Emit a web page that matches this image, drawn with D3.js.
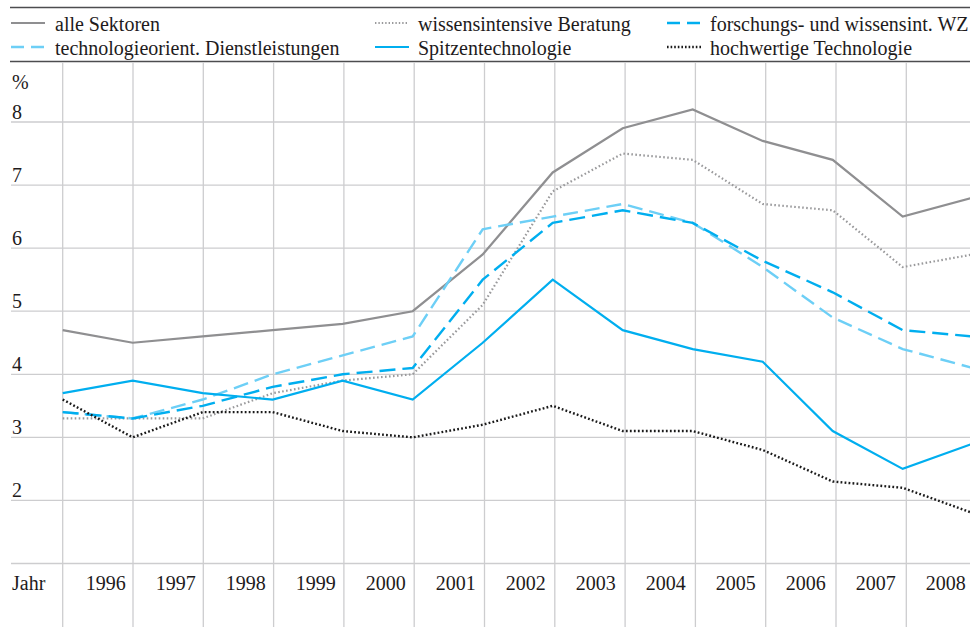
<!DOCTYPE html>
<html>
<head>
<meta charset="utf-8">
<script src="https://cdn.jsdelivr.net/npm/d3@7/dist/d3.min.js"></script>
<style>
  html, body { margin: 0; padding: 0; background: #fff; }
  svg { display: block; }
  svg text { font-family: "Liberation Serif", "DejaVu Serif", "Noto Serif", serif; fill: #1e1b1c; font-size: 20px; }
</style>
</head>
<body>
<svg id="chart" width="970" height="627"></svg>
<script>
// Jahre der Datenpunkte (erster Punkt = Ausgangsjahr ohne Beschriftung)
const years = [1995, 1996, 1997, 1998, 1999, 2000, 2001, 2002, 2003, 2004, 2005, 2006, 2007, 2008];
const yearLabels = [1996, 1997, 1998, 1999, 2000, 2001, 2002, 2003, 2004, 2005, 2006, 2007, 2008];
const yTicks = [2, 3, 4, 5, 6, 7, 8];
const yGrid = [1, 2, 3, 4, 5, 6, 7, 8];

// Werte in %
const alleSektoren      = [4.7, 4.5, 4.6, 4.7, 4.8, 5.0, 5.9, 7.2, 7.9, 8.2, 7.7, 7.4, 6.5, 6.8];
const wissensBeratung   = [3.3, 3.3, 3.3, 3.7, 3.9, 4.0, 5.1, 6.9, 7.5, 7.4, 6.7, 6.6, 5.7, 5.9];
const techDienste       = [3.4, 3.3, 3.6, 4.0, 4.3, 4.6, 6.3, 6.5, 6.7, 6.4, 5.7, 4.9, 4.4, 4.1];
const forschungWZ       = [3.4, 3.3, 3.5, 3.8, 4.0, 4.1, 5.5, 6.4, 6.6, 6.4, 5.8, 5.3, 4.7, 4.6];
const spitzentechnik    = [3.7, 3.9, 3.7, 3.6, 3.9, 3.6, 4.5, 5.5, 4.7, 4.4, 4.2, 3.1, 2.5, 2.9];
const hochwertigeTechnik= [3.6, 3.0, 3.4, 3.4, 3.1, 3.0, 3.2, 3.5, 3.1, 3.1, 2.8, 2.3, 2.2, 1.8];

const seriesNames = [
  "alle Sektoren",
  "technologieorient. Dienstleistungen",
  "wissensintensive Beratung",
  "Spitzentechnologie",
  "forschungs- und wissensint. WZ",
  "hochwertige Technologie"
];

// Darstellung je Reihe
const styles = {
  "alle Sektoren":                       { values: alleSektoren,       color: "#8f8f91", width: 2.2, dash: null,      legendDash: null },
  "wissensintensive Beratung":           { values: wissensBeratung,    color: "#9a9a9c", width: 2.2, dash: "1.6,2.4", legendDash: "1.4,2" },
  "technologieorient. Dienstleistungen": { values: techDienste,        color: "#6dcff6", width: 2.4, dash: "15,7",    legendDash: "13,7" },
  "forschungs- und wissensint. WZ":      { values: forschungWZ,        color: "#00aeef", width: 2.4, dash: "16,7",    legendDash: "13,7" },
  "Spitzentechnologie":                  { values: spitzentechnik,     color: "#00aeef", width: 2.2, dash: null,      legendDash: null },
  "hochwertige Technologie":             { values: hochwertigeTechnik, color: "#1a1a1a", width: 2.4, dash: "1.8,2.2", legendDash: "1.6,2" }
};
const drawOrder = [
  "alle Sektoren",
  "wissensintensive Beratung",
  "technologieorient. Dienstleistungen",
  "forschungs- und wissensint. WZ",
  "Spitzentechnologie",
  "hochwertige Technologie"
];

const svg = d3.select("#chart");

// Skalen: Datenpunkte und Rasterspalten
const x = d3.scaleLinear().domain([1995, 2008]).range([62.7, 972.7]);
const xGrid = d3.scaleLinear().domain([1995, 2008]).range([62.7, 976.6]);
const y = d3.scaleLinear().domain([1, 8]).range([563.5, 122]);

// Rahmenlinien der Legende
svg.append("g").selectAll("line").data([7.5, 61.5]).join("line")
  .attr("x1", 10).attr("x2", 970)
  .attr("y1", d => d).attr("y2", d => d)
  .attr("stroke", "#4d4d4f").attr("stroke-width", 1.6);

// Raster
const grid = svg.append("g");
grid.selectAll("line.v").data(years).join("line")
  .attr("class", "v")
  .attr("x1", d => xGrid(d)).attr("x2", d => xGrid(d))
  .attr("y1", 62.5).attr("y2", 627)
  .attr("stroke", "#cdcdcf").attr("stroke-width", 1.3);
grid.selectAll("line.h").data(yGrid).join("line")
  .attr("class", "h")
  .attr("x1", 11).attr("x2", 970)
  .attr("y1", d => y(d)).attr("y2", d => y(d))
  .attr("stroke", "#cdcdcf").attr("stroke-width", 1.3);

// y-Achse: Beschriftung über der Rasterlinie
const yAxis = d3.axisLeft(y).tickValues(yTicks).tickSize(0).tickFormat(d3.format("d"));
const yg = svg.append("g").attr("transform", "translate(12,0)").call(yAxis)
  .attr("font-family", null).attr("font-size", null);
yg.select(".domain").remove();
yg.selectAll("text")
  .attr("x", 0).attr("dy", "-4").attr("text-anchor", "start");

svg.append("text").attr("x", 12).attr("y", 89).text("%");

// x-Achse: Jahreszahlen rechtsbündig vor dem jeweiligen Punkt
const xAxis = d3.axisBottom(x).tickValues(yearLabels).tickSize(0).tickFormat(d3.format("d"));
const xg = svg.append("g").attr("transform", "translate(0,590)").call(xAxis)
  .attr("font-family", null).attr("font-size", null);
xg.select(".domain").remove();
xg.selectAll("text")
  .attr("y", 0).attr("dy", 0).attr("x", -7.5).attr("text-anchor", "end");

svg.append("text").attr("x", 12).attr("y", 590).text("Jahr");

// Linien
const line = d3.line()
  .x((d, i) => x(years[i]))
  .y(d => y(d));

svg.append("g").selectAll("path").data(drawOrder).join("path")
  .attr("d", name => line(styles[name].values))
  .attr("fill", "none")
  .attr("stroke", name => styles[name].color)
  .attr("stroke-width", name => styles[name].width)
  .attr("stroke-dasharray", name => styles[name].dash)
  .attr("stroke-linejoin", "miter");

// Legende (3 Spalten, 2 Zeilen)
const colX = [11, 375, 667];
const rowY = [23, 47];
const legend = svg.append("g").selectAll("g").data(seriesNames).join("g")
  .attr("transform", (d, i) => `translate(${colX[Math.floor(i / 2)]},${rowY[i % 2]})`);
legend.append("line")
  .attr("x1", 0).attr("x2", 34).attr("y1", 0).attr("y2", 0)
  .attr("stroke", d => styles[d].color)
  .attr("stroke-width", d => styles[d].width)
  .attr("stroke-dasharray", d => styles[d].legendDash);
legend.append("text")
  .attr("x", (d, i) => i < 2 ? 44 : 43)
  .attr("y", 8)
  .text(d => d);
</script>
</body>
</html>
